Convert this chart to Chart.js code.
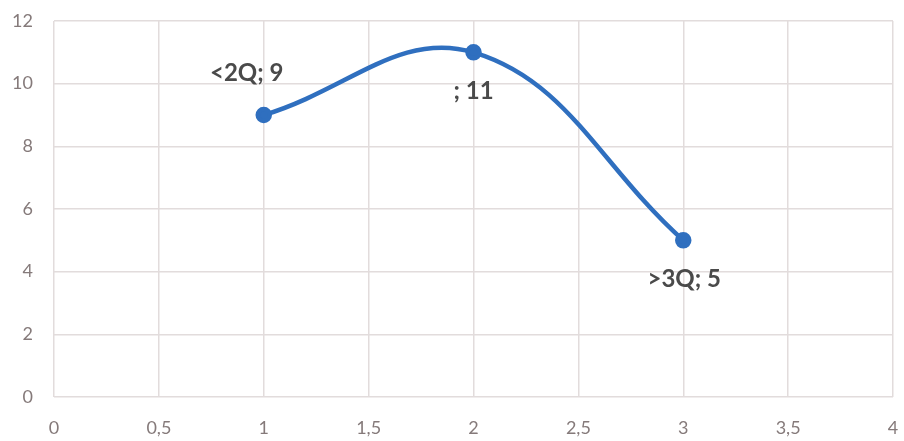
<!DOCTYPE html>
<html lang="en">
<head>
  <meta charset="UTF-8" />
  <title>Scatter with smooth line</title>
  <script src="https://cdn.jsdelivr.net/npm/chart.js"></script>
  <style>
    body { margin: 0; background: #fff; }
    .wrap { width: 904px; height: 441px; }
  </style>
</head>
<body>
  <div class="wrap"><canvas id="chart"></canvas></div>

  <script>
    const xValues = [1, 2, 3];
    const yValues = [9, 11, 5];
    const pointLabels = ['<2Q; 9', '; 11', '>3Q; 5'];

    // label offsets from each point (px), like Excel's label placement
    const labelOffsets = [[-17, -42], [0, 39], [1, 39]];

    const fmt = v => String(v).replace('.', ',');

    const labelPlugin = {
      id: 'pointLabels',
      afterDatasetsDraw(chart) {
        const ctx = chart.ctx;
        const meta = chart.getDatasetMeta(0);
        ctx.save();
        ctx.font = 'bold 24px Lato, "Open Sans", sans-serif';
        ctx.fillStyle = '#4a4a4a';
        ctx.textAlign = 'center';
        ctx.textBaseline = 'middle';
        meta.data.forEach((pt, i) => {
          ctx.fillText(pointLabels[i], pt.x + labelOffsets[i][0], pt.y + labelOffsets[i][1]);
        });
        ctx.restore();
      }
    };

    new Chart(document.getElementById('chart'), {
      type: 'scatter',
      data: {
        datasets: [{
          data: xValues.map((x, i) => ({ x: x, y: yValues[i] })),
          showLine: true,
          borderColor: '#2f6fbf',
          backgroundColor: '#2f6fbf',
          borderWidth: 4.5,
          pointRadius: 6,
          tension: 0.4
        }]
      },
      options: {
        responsive: true,
        maintainAspectRatio: false,
        animation: false,
        layout: { padding: { top: 21, right: 11, left: 0, bottom: 0 } },
        plugins: { legend: { display: false }, tooltip: { enabled: false } },
        scales: {
          x: {
            type: 'linear',
            min: 0,
            max: 4,
            afterFit: s => { s.height = 44; s.paddingLeft = 0; s.paddingRight = 0; },
            ticks: {
              stepSize: 0.5,
              padding: 20,
              color: '#857a7a',
              font: { family: 'Lato, "Open Sans", sans-serif', size: 18 },
              callback: v => fmt(v)
            },
            grid: { color: '#e2dcdc', lineWidth: 1.5, drawTicks: false },
            border: { display: false }
          },
          y: {
            min: 0,
            max: 12,
            afterFit: s => { s.width = 54; s.paddingTop = 0; s.paddingBottom = 0; },
            ticks: {
              stepSize: 2,
              padding: 21,
              color: '#857a7a',
              font: { family: 'Lato, "Open Sans", sans-serif', size: 18 }
            },
            grid: { color: '#e2dcdc', lineWidth: 1.5, drawTicks: false },
            border: { display: false }
          }
        }
      },
      plugins: [labelPlugin]
    });
  </script>
</body>
</html>
